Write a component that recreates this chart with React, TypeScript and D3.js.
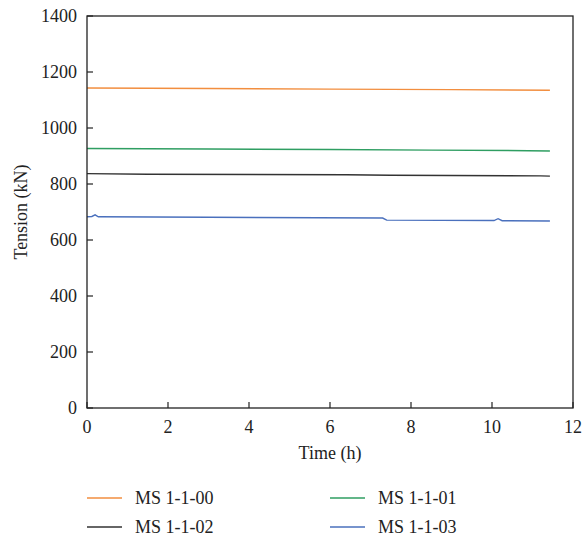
import React from "react";
import * as d3 from "d3";

// Mooring line tension records over time (h, kN)
const seriesNames = ["MS 1-1-00", "MS 1-1-01", "MS 1-1-02", "MS 1-1-03"];
const seriesColors = ["#f28e3f", "#2f9e62", "#333333", "#4a70bd"];

const ms00: [number, number][] = [[0, 1143], [3, 1141], [6, 1139], [9, 1137], [11.43, 1135]];
const ms01: [number, number][] = [[0, 927], [3, 925], [6, 923], [8.5, 921], [10.9, 919], [11.43, 918]];
const ms02: [number, number][] = [[0, 837], [1.5, 835], [6.4, 833], [7.5, 831], [11.2, 829], [11.43, 828]];
const ms03: [number, number][] = [
  [0, 683], [0.12, 684], [0.2, 690], [0.28, 683], [3, 681], [7.3, 678.5], [7.4, 671],
  [10.05, 669.5], [10.15, 676], [10.25, 669], [11.43, 668],
];
const seriesData = [ms00, ms01, ms02, ms03];

const xTicks = [0, 2, 4, 6, 8, 10, 12];
const yTicks = [0, 200, 400, 600, 800, 1000, 1200, 1400];

const W = 585;
const H = 539;
const left = 87;
const right = 573;
const top = 16;
const bottom = 408;
const font = "Liberation Serif, Times New Roman, Times, serif";

export default function App() {
  const x = d3.scaleLinear().domain([0, 12]).range([left, right]);
  const y = d3.scaleLinear().domain([0, 1400]).range([bottom, top]);
  const line = d3
    .line<[number, number]>()
    .x((d) => x(d[0]))
    .y((d) => y(d[1]));

  return (
    <svg
      width={W}
      height={H}
      style={{ position: "absolute", left: 0, top: 0, background: "#fff", fontFamily: font }}
    >
      {seriesData.map((d, i) => (
        <path key={i} d={line(d) ?? ""} fill="none" stroke={seriesColors[i]} strokeWidth={1.4} />
      ))}
      <rect x={left} y={top} width={right - left} height={bottom - top} fill="none" stroke="#222" strokeWidth={1.3} />
      {xTicks.map((t) => (
        <g key={t}>
          <line x1={x(t)} x2={x(t)} y1={bottom} y2={bottom - 6} stroke="#222" strokeWidth={1.2} />
          <text x={x(t)} y={bottom + 25} fontSize={18} textAnchor="middle" fill="#222">
            {t}
          </text>
        </g>
      ))}
      {yTicks.map((t) => (
        <g key={t}>
          <line x1={left} x2={left + 6} y1={y(t)} y2={y(t)} stroke="#222" strokeWidth={1.2} />
          <text x={left - 10} y={y(t) + 6} fontSize={18} textAnchor="end" fill="#222">
            {t}
          </text>
        </g>
      ))}
      <text x={(left + right) / 2} y={459} fontSize={18} textAnchor="middle" fill="#222">
        Time (h)
      </text>
      <text
        transform={`translate(27, ${(top + bottom) / 2}) rotate(-90)`}
        fontSize={18}
        textAnchor="middle"
        fill="#222"
      >
        Tension (kN)
      </text>
      {seriesNames.map((name, i) => {
        const col = i % 2;
        const row = Math.floor(i / 2);
        const lx = 87 + col * 243;
        const ly = 498 + row * 29;
        return (
          <g key={name}>
            <line x1={lx} x2={lx + 35} y1={ly} y2={ly} stroke={seriesColors[i]} strokeWidth={1.6} />
            <text x={lx + 48} y={ly + 6} fontSize={18} fill="#222">
              {name}
            </text>
          </g>
        );
      })}
    </svg>
  );
}
